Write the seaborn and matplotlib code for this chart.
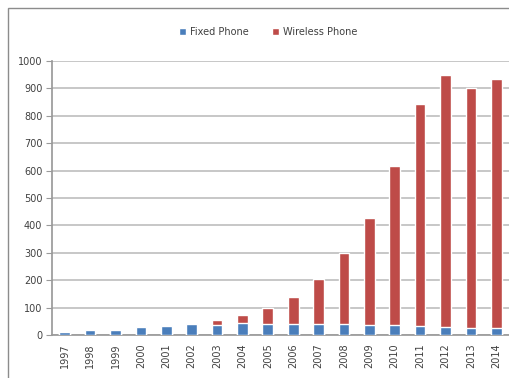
import matplotlib
matplotlib.use("Agg")
import matplotlib.pyplot as plt
from matplotlib.patches import Rectangle
import seaborn as sns
import pandas as pd

years = ["1997", "1998", "1999", "2000", "2001", "2002", "2003", "2004", "2005",
         "2006", "2007", "2008", "2009", "2010", "2011", "2012", "2013", "2014"]
fixed_phone = [10, 20, 20, 28, 34, 41, 38, 42, 40, 40, 40, 40, 37, 35, 33, 30, 27, 25]
wireless_phone = [2, 0, 0, 2, 1, 1, 18, 31, 57, 100, 165, 260, 391, 583, 810, 918, 873, 910]

totals = [f + w for f, w in zip(fixed_phone, wireless_phone)]
df = pd.DataFrame({"year": years, "fixed": fixed_phone, "total": totals})

blue = "#4A7EBB"
red = "#BE4B48"
grid_c = "#BDBDBD"
text_c = "#404040"

sns.set_theme(style="white")
plt.rcParams["font.family"] = ["DejaVu Sans"]

fig = plt.figure(figsize=(5.09, 3.78), dpi=100)
fig.patch.set_facecolor("white")
ax = fig.add_axes([52 / 509, 1 - 335 / 378, (509 - 52) / 509, (335 - 61) / 378])

# stacked look: total in red, fixed-line share drawn over its base
sns.barplot(data=df, x="year", y="total", color=red, width=0.42,
            saturation=1, ax=ax, label="Wireless Phone", zorder=3)
sns.barplot(data=df, x="year", y="fixed", color=blue, width=0.42,
            saturation=1, ax=ax, label="Fixed Phone", zorder=4)
handles, labels = ax.get_legend_handles_labels()
if ax.get_legend() is not None:
    ax.get_legend().remove()

ax.set_ylim(0, 1000)
ax.set_xlim(-0.5, len(years) - 0.5)
ax.set_yticks(range(0, 1001, 100))
ax.yaxis.grid(True, color=grid_c, linewidth=1.2, zorder=0)
ax.set_axisbelow(True)
ax.set_xlabel("")
ax.set_ylabel("")

for side in ["top", "right"]:
    ax.spines[side].set_visible(False)
ax.spines["left"].set_color("#9A9A9A")
ax.spines["bottom"].set_color("#9A9A9A")

ax.tick_params(axis="y", labelsize=7, colors=text_c, length=4, width=0.8,
               direction="out", left=True, pad=3)
ax.tick_params(axis="y", color="#9A9A9A")
ax.tick_params(axis="x", labelsize=7, colors=text_c, length=0, pad=6)
ax.set_xticks(range(len(years)))
ax.set_xticklabels(years, rotation=90)

# small ticks between categories
ax.set_xticks([i - 0.5 for i in range(len(years) + 1)], minor=True)
ax.tick_params(axis="x", which="minor", length=4, width=0.8, color="#C8B88A",
               direction="out")

order = [labels.index("Fixed Phone"), labels.index("Wireless Phone")]
fig.legend([handles[i] for i in order], [labels[i] for i in order],
           loc="center", bbox_to_anchor=(268 / 509, 1 - 32 / 378), ncol=2,
           frameon=False, fontsize=7, handlelength=0.7, handleheight=0.7,
           handletextpad=0.4, columnspacing=2.4, labelcolor=text_c)

# outer chart frame
fig.patches.append(Rectangle((8 / 509, -0.1), 1.2, (378 - 8) / 378 + 0.1,
                             transform=fig.transFigure, fill=False,
                             edgecolor="#8C8C8C", linewidth=1.0))

fig.savefig("out.png", dpi=100, facecolor="white")
